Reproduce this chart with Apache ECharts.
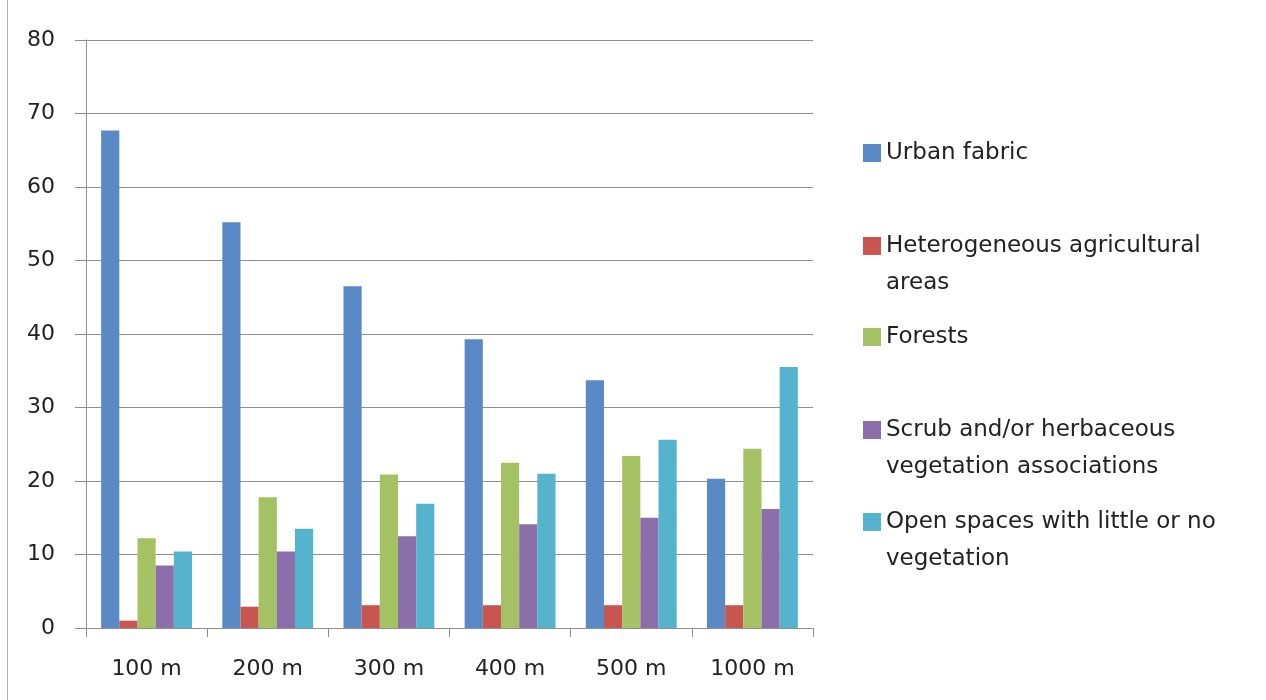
<!DOCTYPE html>
<html>
<head>
<meta charset="utf-8">
<title>Land cover by buffer distance</title>
<script src="https://cdn.jsdelivr.net/npm/echarts@6/dist/echarts.min.js"></script>
<style>
  html, body { margin: 0; padding: 0; background: #fff; }
  #chart { width: 1266px; height: 700px; }
</style>
</head>
<body>
<div id="chart"></div>
<script>
// data
var categories = ['100 m', '200 m', '300 m', '400 m', '500 m', '1000 m']
var urbanFabric = [67.7, 55.2, 46.5, 39.3, 33.7, 20.3]
var heteroAgri = [1.0, 2.9, 3.1, 3.1, 3.1, 3.1]
var forests = [12.2, 17.8, 20.9, 22.5, 23.4, 24.4]
var scrub = [8.5, 10.4, 12.5, 14.1, 15.0, 16.2]
var openSpaces = [10.4, 13.5, 16.9, 21.0, 25.6, 35.5]
var yMin = 0
var yMax = 80
var yStep = 10

var seriesNames = [
    'Urban fabric',
    'Heterogeneous agricultural areas',
    'Forests',
    'Scrub and/or herbaceous vegetation associations',
    'Open spaces with little or no vegetation'
]
// legend labels wrap like the original
var legendLabels = [
    'Urban fabric',
    'Heterogeneous agricultural\nareas',
    'Forests',
    'Scrub and/or herbaceous\nvegetation associations',
    'Open spaces with little or no\nvegetation'
]
var colors = ['#5a8ac6', '#c8554f', '#a4c263', '#8b6eaa', '#55b3cd']

var font = 'DejaVu Sans'
var gridColor = '#8e8e8e'

var chart = echarts.init(document.getElementById('chart'))

var seriesData = [urbanFabric, heteroAgri, forests, scrub, openSpaces]
var series = seriesData.map(function (d, i) {
    return {
        name: seriesNames[i],
        type: 'bar',
        data: d,
        barGap: '0%',
        barCategoryGap: '25%',
        itemStyle: { color: colors[i] },
        emphasis: { disabled: true }
    }
})

// one legend per entry so the spacing matches the picture
var legendCenters = [153, 246, 337, 430, 522]
var legends = seriesNames.map(function (name, i) {
    var twoLines = legendLabels[i].indexOf('\n') >= 0
    return {
        data: [name],
        orient: 'vertical',
        left: 863,
        top: legendCenters[i] - (twoLines ? 55.5 : 18.5),
        padding: 0,
        icon: 'rect',
        itemWidth: 18,
        itemHeight: 18,
        selectedMode: false,
        // leading blank line keeps the swatch level with the first line
        formatter: function () { return twoLines ? '\n' + legendLabels[i] : legendLabels[i] },
        textStyle: {
            fontFamily: font,
            fontSize: 23,
            color: '#222',
            lineHeight: 37
        }
    }
})

chart.setOption({
    animation: false,
    backgroundColor: '#fff',
    color: colors,
    grid: {
        left: 86,
        right: 453,
        top: 40,
        bottom: 72
    },
    legend: legends,
    xAxis: {
        type: 'category',
        data: categories,
        axisLine: { lineStyle: { color: gridColor, width: 1 } },
        axisTick: { show: true, length: 9, lineStyle: { color: gridColor } },
        axisLabel: {
            fontFamily: font,
            fontSize: 22,
            color: '#222',
            margin: 30
        }
    },
    yAxis: {
        type: 'value',
        min: yMin,
        max: yMax,
        interval: yStep,
        axisLine: { show: true, lineStyle: { color: gridColor, width: 1 } },
        axisTick: { show: true, length: 11, lineStyle: { color: gridColor } },
        splitLine: { lineStyle: { color: gridColor, width: 1 } },
        axisLabel: {
            fontFamily: font,
            fontSize: 22,
            color: '#222',
            margin: 31
        }
    },
    // frame edge on the left of the original image
    graphic: [{
        type: 'line',
        shape: { x1: 7.5, y1: 0, x2: 7.5, y2: 700 },
        style: { stroke: '#b0b0b0', lineWidth: 1 }
    }],
    series: series
})
</script>
</body>
</html>
